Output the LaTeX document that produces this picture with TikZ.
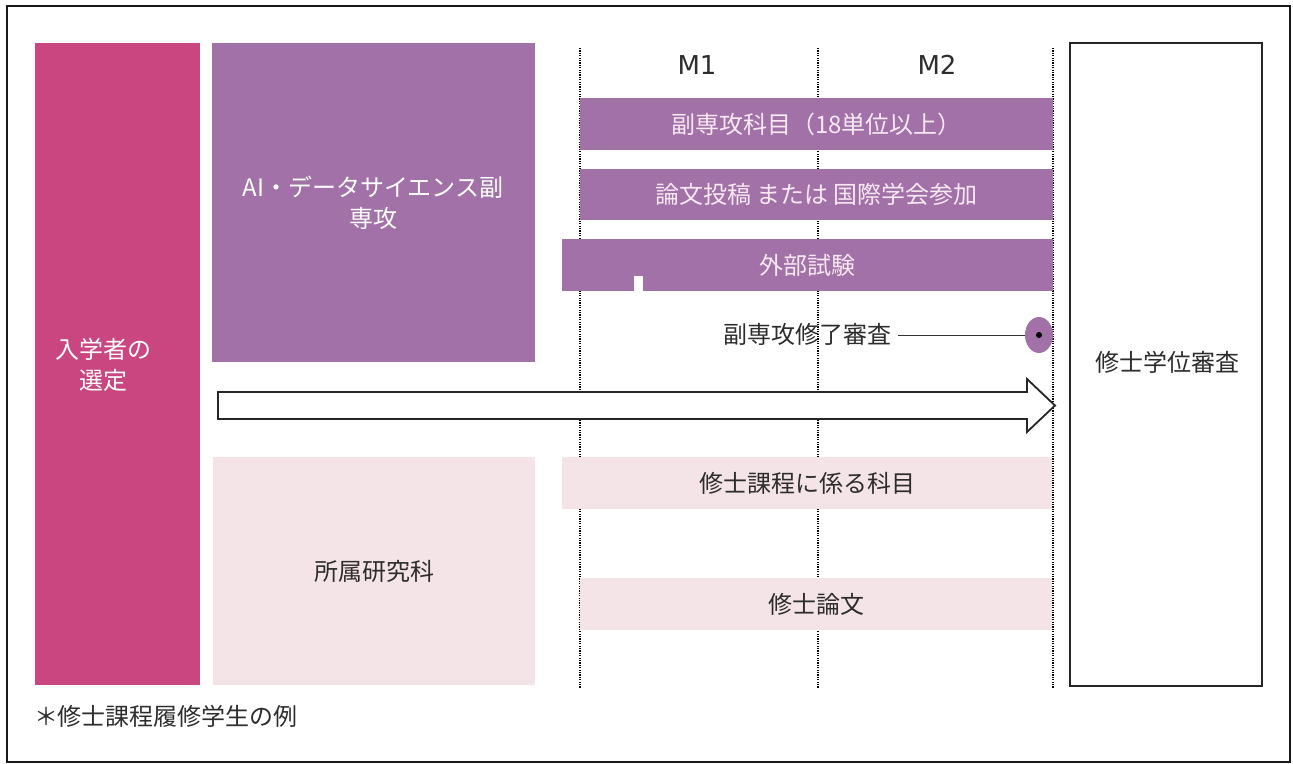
\documentclass[tikz,border=0pt]{standalone}
\usepackage{fontspec}
\setmainfont{Noto Sans CJK JP}
\newfontfamily\latinfont{DejaVu Sans}
\usetikzlibrary{shapes.geometric}
\definecolor{rosebox}{RGB}{202,70,128}
\definecolor{purp}{RGB}{161,113,168}
\definecolor{lpink}{RGB}{244,227,231}
\definecolor{txt}{RGB}{45,45,45}
\definecolor{bartxt}{RGB}{248,232,242}
\tikzset{
  base/.style={inner sep=0pt, outer sep=0pt, font=\fontsize{24}{31}\selectfont, align=center},
  rosefill/.style={base, fill=rosebox, text=white},
  purpfill/.style={base, fill=purp, text=white},
  purpbar/.style={base, fill=purp, text=bartxt},
  lightbar/.style={base, fill=lpink, text=txt},
  framebox/.style={base, draw=black!85, line width=1.6pt, fill=white, text=txt},
  grid/.style={dash pattern=on 1.2pt off 1.2pt, draw=black, line width=1.3pt},
  plain/.style={base, text=txt},
  blockarrow/.style={draw=black!85, line width=1.8pt, fill=white, line join=miter},
}
\begin{document}
\begin{tikzpicture}[x=1pt,y=-1pt]
\useasboundingbox (0,0) rectangle (1293,763);
\draw[line width=1.8pt, draw=black!90] (7,6) rectangle (1290,762);

% left boxes
\node[rosefill, minimum width=165pt, minimum height=642pt] (sel) at (117.5,364) {};
\node[rosefill] (seltxt) at (103,365) {入学者の\\選定};
\node[purpfill, minimum width=323pt, minimum height=319pt] (ai) at (373.5,202.5) {};
\node[purpfill] (aitxt) at (373,203) {AI・データサイエンス副\\専攻};
\node[lightbar, minimum width=322pt, minimum height=228pt] (dept) at (374,571) {所属研究科};

% grid lines
\coordinate (g1t) at (580,48); \coordinate (g1b) at (580,688);
\coordinate (g2t) at (818,48); \coordinate (g2b) at (818,688);
\coordinate (g3t) at (1053,48); \coordinate (g3b) at (1053,688);
\draw[grid] (g1t) -- (g1b);
\draw[grid] (g2t) -- (g2b);
\draw[grid] (g3t) -- (g3b);

\node[plain, font=\latinfont\fontsize{26}{30}\selectfont] (m1) at (697,65) {M1};
\node[plain, font=\latinfont\fontsize{26}{30}\selectfont] (m2) at (937,65) {M2};

% purple bars
\node[purpbar, minimum width=473pt, minimum height=52pt] (b1) at (816.5,124) {副専攻科目（18単位以上）};
\node[purpbar, minimum width=473pt, minimum height=51pt] (b2) at (816.5,194.5) {論文投稿 または 国際学会参加};
\node[purpbar, minimum width=491pt, minimum height=52pt] (b3) at (807.5,265) {外部試験};
\fill[white] (634,276) rectangle (643,292);

% completion review
\node[plain] (rev) at (807,334) {副専攻修了審査};
\node[ellipse, fill=purp, minimum width=28pt, minimum height=36pt, inner sep=0pt] (dot) at (1039,335) {};
\fill[black] (dot.center) circle (3pt);
\coordinate (linestart) at (898,335);
\draw[black!80, line width=0.8pt] (linestart) -- (dot.west);

% big arrow
\draw[blockarrow] (218,392) -- (1027,392) -- (1027,379) -- (1055,405.5) -- (1027,432) -- (1027,419) -- (218,419) -- cycle;

% light bars
\node[lightbar, minimum width=490pt, minimum height=52pt] (b4) at (807,483) {修士課程に係る科目};
\node[lightbar, minimum width=472pt, minimum height=52pt] (b5) at (816,604) {修士論文};

% right box
\node[framebox, minimum width=192pt, minimum height=643pt] (deg) at (1166,364.5) {};
\node[plain] (degtxt) at (1167,362) {修士学位審査};

\node[plain, anchor=west] (note) at (34,716) {＊修士課程履修学生の例};
\end{tikzpicture}
\end{document}
